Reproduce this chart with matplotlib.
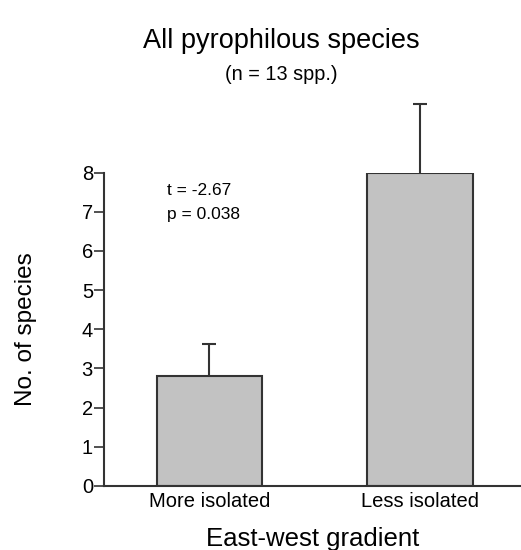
import matplotlib
matplotlib.use("Agg")
import matplotlib.pyplot as plt

plt.rcParams["font.family"] = ["Liberation Sans", "DejaVu Sans"]

categories = ["More isolated", "Less isolated"]
means = [2.8, 8.0]
errors = [0.83, 1.74]
stats_text = "t = -2.67\np = 0.038"

INK = "#333333"

fig = plt.figure(figsize=(5.21, 5.5), dpi=100)
ax = fig.add_axes([0.1996, 0.1164, 0.8004, 0.5697])

x = list(range(len(categories)))
ax.bar(x, means, width=0.5, color="#c2c2c2", edgecolor=INK, linewidth=1.5, zorder=2)
eb = ax.errorbar(x, means, yerr=[[0] * len(errors), errors], fmt="none",
                 ecolor=INK, elinewidth=1.5, capsize=5, capthick=1.5, zorder=1)
caps = eb.lines[1]
caps[0].set_visible(False)  # no cap on the zero-length lower side
for art in list(caps) + list(eb.lines[2]):
    art.set_clip_on(False)

ax.set_xlim(-0.5, 1.48)
ax.set_ylim(0, 8)
ax.set_yticks(range(0, 9))
ax.set_xticks(x)
ax.set_xticklabels(categories, fontsize=14.5)
ax.tick_params(axis="x", length=0, pad=4)
ax.tick_params(axis="y", length=7, width=1.2, color=INK, labelsize=14.5, pad=1)

for side in ("top", "right"):
    ax.spines[side].set_visible(False)
for side in ("left", "bottom"):
    ax.spines[side].set_color(INK)
    ax.spines[side].set_linewidth(1.5)

ax.set_ylabel("No. of species", fontsize=17.5, labelpad=32)
ax.set_xlabel("East-west gradient", fontsize=18.5, labelpad=12)

ax.text(-0.2, 7.24, stats_text, fontsize=12.5, va="center", ha="left", linespacing=1.75)

fig.text(0.54, 0.925, "All pyrophilous species", fontsize=19.5, ha="center", va="center")
fig.text(0.54, 0.865, "(n = 13 spp.)", fontsize=14.3, ha="center", va="center")

fig.savefig("out.png", dpi=100)
